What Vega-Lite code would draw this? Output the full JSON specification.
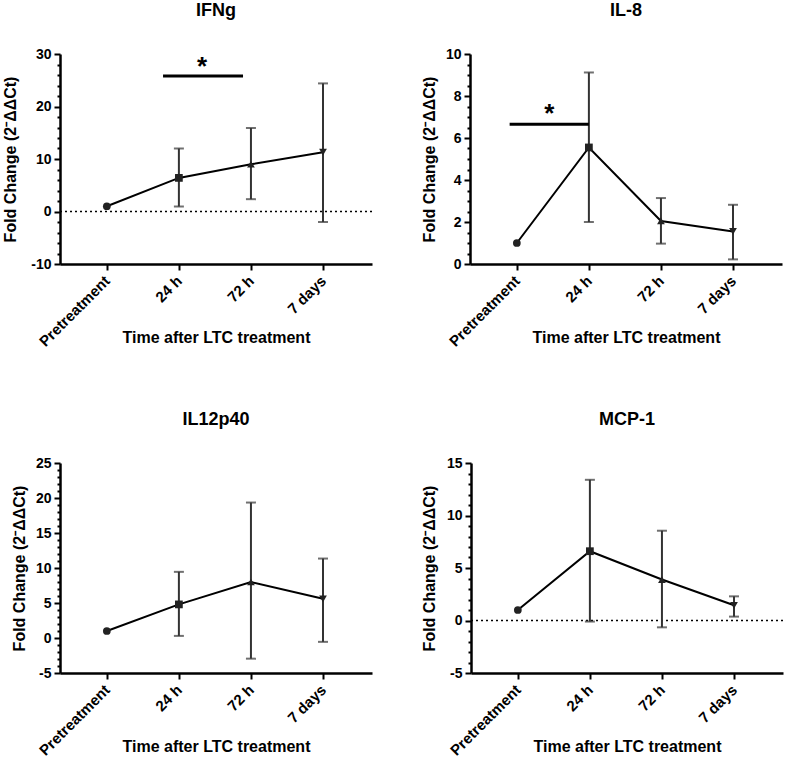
{
  "$schema": "https://vega.github.io/schema/vega-lite/v6.json",
  "background": "white",
  "padding": {"left": 2, "top": 2, "right": 5, "bottom": 0},
  "columns": 2,
  "align": "none",
  "spacing": {"row": 61, "column": 48},
  "datasets": {
    "pts": [
      {"panel": "IFNg", "t": 0, "label": "Pretreatment", "mean": 1.0, "lo": null, "hi": null},
      {"panel": "IFNg", "t": 1, "label": "24 h", "mean": 6.4, "lo": 0.95, "hi": 12.0},
      {"panel": "IFNg", "t": 2, "label": "72 h", "mean": 9.0, "lo": 2.35, "hi": 15.9},
      {"panel": "IFNg", "t": 3, "label": "7 days", "mean": 11.3, "lo": -2.0, "hi": 24.4},
      {"panel": "IL-8", "t": 0, "label": "Pretreatment", "mean": 1.0, "lo": null, "hi": null},
      {"panel": "IL-8", "t": 1, "label": "24 h", "mean": 5.55, "lo": 2.0, "hi": 9.12},
      {"panel": "IL-8", "t": 2, "label": "72 h", "mean": 2.05, "lo": 0.97, "hi": 3.14},
      {"panel": "IL-8", "t": 3, "label": "7 days", "mean": 1.55, "lo": 0.22, "hi": 2.82},
      {"panel": "IL12p40", "t": 0, "label": "Pretreatment", "mean": 1.0, "lo": null, "hi": null},
      {"panel": "IL12p40", "t": 1, "label": "24 h", "mean": 4.8, "lo": 0.3, "hi": 9.45},
      {"panel": "IL12p40", "t": 2, "label": "72 h", "mean": 8.0, "lo": -2.95, "hi": 19.35},
      {"panel": "IL12p40", "t": 3, "label": "7 days", "mean": 5.6, "lo": -0.55, "hi": 11.35},
      {"panel": "MCP-1", "t": 0, "label": "Pretreatment", "mean": 1.0, "lo": null, "hi": null},
      {"panel": "MCP-1", "t": 1, "label": "24 h", "mean": 6.6, "lo": -0.1, "hi": 13.4},
      {"panel": "MCP-1", "t": 2, "label": "72 h", "mean": 3.9, "lo": -0.65, "hi": 8.55},
      {"panel": "MCP-1", "t": 3, "label": "7 days", "mean": 1.45, "lo": 0.37, "hi": 2.3}
    ],
    "sig": [
      {"panel": "IFNg", "x1": 0.78, "x2": 1.89, "y": 25.8, "sx": 1.32, "sy": 28.35, "star": "*"},
      {"panel": "IL-8", "x1": -0.1, "x2": 1.0, "y": 6.65, "sx": 0.45, "sy": 7.32, "star": "*"}
    ],
    "zero": [{"y": 0}]
  },
  "concat": [
    {
      "title": "IFNg",
      "width": 312, "height": 210,
      "layer": [
        {"data": {"name": "zero"}, "mark": {"type": "rule", "color": "black", "strokeWidth": 1.6, "strokeDash": [2, 3]}, "encoding": {"y": {"field": "y", "type": "quantitative", "title": "Fold Change (2⁻ΔΔCt)"}}},
        {"data": {"name": "pts"}, "transform": [{"filter": "datum.panel == 'IFNg'"}], "mark": {"type": "line", "color": "black", "strokeWidth": 2}, "encoding": {
          "x": {"field": "t", "type": "quantitative", "title": "Time after LTC treatment", "scale": {"domain": [-0.65, 3.68], "nice": false, "zero": false}, "axis": {"values": [0, 1, 2, 3], "tickCount": 50, "labelExpr": "datum.value == 0 ? 'Pretreatment' : datum.value == 1 ? '24 h' : datum.value == 2 ? '72 h' : '7 days'"}},
          "y": {"field": "mean", "type": "quantitative", "title": "Fold Change (2⁻ΔΔCt)", "scale": {"domain": [-10, 30], "nice": false, "zero": false}, "axis": {"tickCount": 100, "minExtent": 34, "values": [-10, -8, -6, -4, -2, 0, 2, 4, 6, 8, 10, 12, 14, 16, 18, 20, 22, 24, 26, 28, 30], "labelExpr": "datum.value % 10 == 0 ? '' + datum.value : ''", "tickSize": {"condition": {"test": "datum.value % 10 == 0", "value": 6}, "value": 3}}}
        }},
        {"data": {"name": "pts"}, "transform": [{"filter": "datum.panel == 'IFNg' && datum.hi != null"}], "mark": {"type": "errorbar", "color": "#333333", "thickness": 2, "ticks": {"size": 10, "thickness": 2, "color": "#333333"}}, "encoding": {
          "x": {"field": "t", "type": "quantitative", "title": "Time after LTC treatment"},
          "y": {"field": "lo", "type": "quantitative", "title": "Fold Change (2⁻ΔΔCt)"}, "y2": {"field": "hi"}
        }},
        {"data": {"name": "pts"}, "transform": [{"filter": "datum.panel == 'IFNg'"}], "mark": {"type": "point", "filled": true, "size": 60, "opacity": 1, "color": "#222222"}, "encoding": {
          "x": {"field": "t", "type": "quantitative", "title": "Time after LTC treatment"},
          "y": {"field": "mean", "type": "quantitative", "title": "Fold Change (2⁻ΔΔCt)"},
          "shape": {"field": "label", "type": "nominal", "scale": {"domain": ["Pretreatment", "24 h", "72 h", "7 days"], "range": ["circle", "square", "triangle-up", "triangle-down"]}, "legend": null}
        }},
        {"data": {"name": "sig"}, "transform": [{"filter": "datum.panel == 'IFNg'"}], "mark": {"type": "rule", "color": "black", "strokeWidth": 3}, "encoding": {
          "x": {"field": "x1", "type": "quantitative", "title": "Time after LTC treatment"}, "x2": {"field": "x2"},
          "y": {"field": "y", "type": "quantitative", "title": "Fold Change (2⁻ΔΔCt)"}
        }},
        {"data": {"name": "sig"}, "transform": [{"filter": "datum.panel == 'IFNg'"}], "mark": {"type": "text", "color": "black", "fontSize": 26, "fontWeight": "bold", "baseline": "middle", "dy": 4}, "encoding": {
          "x": {"field": "sx", "type": "quantitative", "title": "Time after LTC treatment"},
          "y": {"field": "sy", "type": "quantitative", "title": "Fold Change (2⁻ΔΔCt)"},
          "text": {"field": "star"}
        }}
      ]
    },
    {
      "title": "IL-8",
      "width": 312, "height": 210,
      "layer": [
        {"data": {"name": "pts"}, "transform": [{"filter": "datum.panel == 'IL-8'"}], "mark": {"type": "line", "color": "black", "strokeWidth": 2}, "encoding": {
          "x": {"field": "t", "type": "quantitative", "title": "Time after LTC treatment", "scale": {"domain": [-0.65, 3.68], "nice": false, "zero": false}, "axis": {"values": [0, 1, 2, 3], "tickCount": 50, "labelExpr": "datum.value == 0 ? 'Pretreatment' : datum.value == 1 ? '24 h' : datum.value == 2 ? '72 h' : '7 days'"}},
          "y": {"field": "mean", "type": "quantitative", "title": "Fold Change (2⁻ΔΔCt)", "scale": {"domain": [0, 10], "nice": false, "zero": false}, "axis": {"tickCount": 100, "values": [0, 0.5, 1, 1.5, 2, 2.5, 3, 3.5, 4, 4.5, 5, 5.5, 6, 6.5, 7, 7.5, 8, 8.5, 9, 9.5, 10], "labelExpr": "datum.value % 2 == 0 ? '' + datum.value : ''", "tickSize": {"condition": {"test": "datum.value % 2 == 0", "value": 6}, "value": 3}}}
        }},
        {"data": {"name": "pts"}, "transform": [{"filter": "datum.panel == 'IL-8' && datum.hi != null"}], "mark": {"type": "errorbar", "color": "#333333", "thickness": 2, "ticks": {"size": 10, "thickness": 2, "color": "#333333"}}, "encoding": {
          "x": {"field": "t", "type": "quantitative", "title": "Time after LTC treatment"},
          "y": {"field": "lo", "type": "quantitative", "title": "Fold Change (2⁻ΔΔCt)"}, "y2": {"field": "hi"}
        }},
        {"data": {"name": "pts"}, "transform": [{"filter": "datum.panel == 'IL-8'"}], "mark": {"type": "point", "filled": true, "size": 60, "opacity": 1, "color": "#222222"}, "encoding": {
          "x": {"field": "t", "type": "quantitative", "title": "Time after LTC treatment"},
          "y": {"field": "mean", "type": "quantitative", "title": "Fold Change (2⁻ΔΔCt)"},
          "shape": {"field": "label", "type": "nominal", "scale": {"domain": ["Pretreatment", "24 h", "72 h", "7 days"], "range": ["circle", "square", "triangle-up", "triangle-down"]}, "legend": null}
        }},
        {"data": {"name": "sig"}, "transform": [{"filter": "datum.panel == 'IL-8'"}], "mark": {"type": "rule", "color": "black", "strokeWidth": 3}, "encoding": {
          "x": {"field": "x1", "type": "quantitative", "title": "Time after LTC treatment"}, "x2": {"field": "x2"},
          "y": {"field": "y", "type": "quantitative", "title": "Fold Change (2⁻ΔΔCt)"}
        }},
        {"data": {"name": "sig"}, "transform": [{"filter": "datum.panel == 'IL-8'"}], "mark": {"type": "text", "color": "black", "fontSize": 26, "fontWeight": "bold", "baseline": "middle", "dy": 4}, "encoding": {
          "x": {"field": "sx", "type": "quantitative", "title": "Time after LTC treatment"},
          "y": {"field": "sy", "type": "quantitative", "title": "Fold Change (2⁻ΔΔCt)"},
          "text": {"field": "star"}
        }}
      ]
    },
    {
      "title": "IL12p40",
      "width": 312, "height": 210,
      "layer": [
        {"data": {"name": "pts"}, "transform": [{"filter": "datum.panel == 'IL12p40'"}], "mark": {"type": "line", "color": "black", "strokeWidth": 2}, "encoding": {
          "x": {"field": "t", "type": "quantitative", "title": "Time after LTC treatment", "scale": {"domain": [-0.65, 3.68], "nice": false, "zero": false}, "axis": {"values": [0, 1, 2, 3], "tickCount": 50, "labelExpr": "datum.value == 0 ? 'Pretreatment' : datum.value == 1 ? '24 h' : datum.value == 2 ? '72 h' : '7 days'"}},
          "y": {"field": "mean", "type": "quantitative", "title": "Fold Change (2⁻ΔΔCt)", "scale": {"domain": [-5, 25], "nice": false, "zero": false}, "axis": {"tickCount": 100, "values": [-5, -4, -3, -2, -1, 0, 1, 2, 3, 4, 5, 6, 7, 8, 9, 10, 11, 12, 13, 14, 15, 16, 17, 18, 19, 20, 21, 22, 23, 24, 25], "labelExpr": "datum.value % 5 == 0 ? '' + datum.value : ''", "tickSize": {"condition": {"test": "datum.value % 5 == 0", "value": 6}, "value": 3}}}
        }},
        {"data": {"name": "pts"}, "transform": [{"filter": "datum.panel == 'IL12p40' && datum.hi != null"}], "mark": {"type": "errorbar", "color": "#333333", "thickness": 2, "ticks": {"size": 10, "thickness": 2, "color": "#333333"}}, "encoding": {
          "x": {"field": "t", "type": "quantitative", "title": "Time after LTC treatment"},
          "y": {"field": "lo", "type": "quantitative", "title": "Fold Change (2⁻ΔΔCt)"}, "y2": {"field": "hi"}
        }},
        {"data": {"name": "pts"}, "transform": [{"filter": "datum.panel == 'IL12p40'"}], "mark": {"type": "point", "filled": true, "size": 60, "opacity": 1, "color": "#222222"}, "encoding": {
          "x": {"field": "t", "type": "quantitative", "title": "Time after LTC treatment"},
          "y": {"field": "mean", "type": "quantitative", "title": "Fold Change (2⁻ΔΔCt)"},
          "shape": {"field": "label", "type": "nominal", "scale": {"domain": ["Pretreatment", "24 h", "72 h", "7 days"], "range": ["circle", "square", "triangle-up", "triangle-down"]}, "legend": null}
        }}
      ]
    },
    {
      "title": "MCP-1",
      "width": 312, "height": 210,
      "layer": [
        {"data": {"name": "zero"}, "mark": {"type": "rule", "color": "black", "strokeWidth": 1.6, "strokeDash": [2, 3]}, "encoding": {"y": {"field": "y", "type": "quantitative", "title": "Fold Change (2⁻ΔΔCt)"}}},
        {"data": {"name": "pts"}, "transform": [{"filter": "datum.panel == 'MCP-1'"}], "mark": {"type": "line", "color": "black", "strokeWidth": 2}, "encoding": {
          "x": {"field": "t", "type": "quantitative", "title": "Time after LTC treatment", "scale": {"domain": [-0.65, 3.68], "nice": false, "zero": false}, "axis": {"values": [0, 1, 2, 3], "tickCount": 50, "labelExpr": "datum.value == 0 ? 'Pretreatment' : datum.value == 1 ? '24 h' : datum.value == 2 ? '72 h' : '7 days'"}},
          "y": {"field": "mean", "type": "quantitative", "title": "Fold Change (2⁻ΔΔCt)", "scale": {"domain": [-5, 15], "nice": false, "zero": false}, "axis": {"tickCount": 100, "minExtent": 26, "values": [-5, -4, -3, -2, -1, 0, 1, 2, 3, 4, 5, 6, 7, 8, 9, 10, 11, 12, 13, 14, 15], "labelExpr": "datum.value % 5 == 0 ? '' + datum.value : ''", "tickSize": {"condition": {"test": "datum.value % 5 == 0", "value": 6}, "value": 3}}}
        }},
        {"data": {"name": "pts"}, "transform": [{"filter": "datum.panel == 'MCP-1' && datum.hi != null"}], "mark": {"type": "errorbar", "color": "#333333", "thickness": 2, "ticks": {"size": 10, "thickness": 2, "color": "#333333"}}, "encoding": {
          "x": {"field": "t", "type": "quantitative", "title": "Time after LTC treatment"},
          "y": {"field": "lo", "type": "quantitative", "title": "Fold Change (2⁻ΔΔCt)"}, "y2": {"field": "hi"}
        }},
        {"data": {"name": "pts"}, "transform": [{"filter": "datum.panel == 'MCP-1'"}], "mark": {"type": "point", "filled": true, "size": 60, "opacity": 1, "color": "#222222"}, "encoding": {
          "x": {"field": "t", "type": "quantitative", "title": "Time after LTC treatment"},
          "y": {"field": "mean", "type": "quantitative", "title": "Fold Change (2⁻ΔΔCt)"},
          "shape": {"field": "label", "type": "nominal", "scale": {"domain": ["Pretreatment", "24 h", "72 h", "7 days"], "range": ["circle", "square", "triangle-up", "triangle-down"]}, "legend": null}
        }}
      ]
    }
  ],
  "config": {
    "font": "Liberation Sans",
    "view": {"stroke": null},
    "title": {"font": "Liberation Sans", "fontSize": 18, "fontWeight": "bold", "color": "black", "offset": 27},
    "axis": {
      "grid": false,
      "domainColor": "black", "domainWidth": 2.5,
      "tickColor": "black", "tickWidth": 2,
      "labelFont": "Liberation Sans", "labelFontWeight": "bold", "labelFontSize": 14, "labelColor": "black",
      "titleFont": "Liberation Sans", "titleFontWeight": "bold", "titleFontSize": 16, "titleColor": "black",
      "labelOverlap": false
    },
    "axisX": {"tickSize": 6, "labelAngle": -45, "labelAlign": "right", "labelBaseline": "middle", "labelPadding": 8, "labelFontSize": 15, "titleBaseline": "alphabetic", "titleY": 78},
    "axisY": {"labelPadding": 3, "titlePadding": 8}
  }
}
